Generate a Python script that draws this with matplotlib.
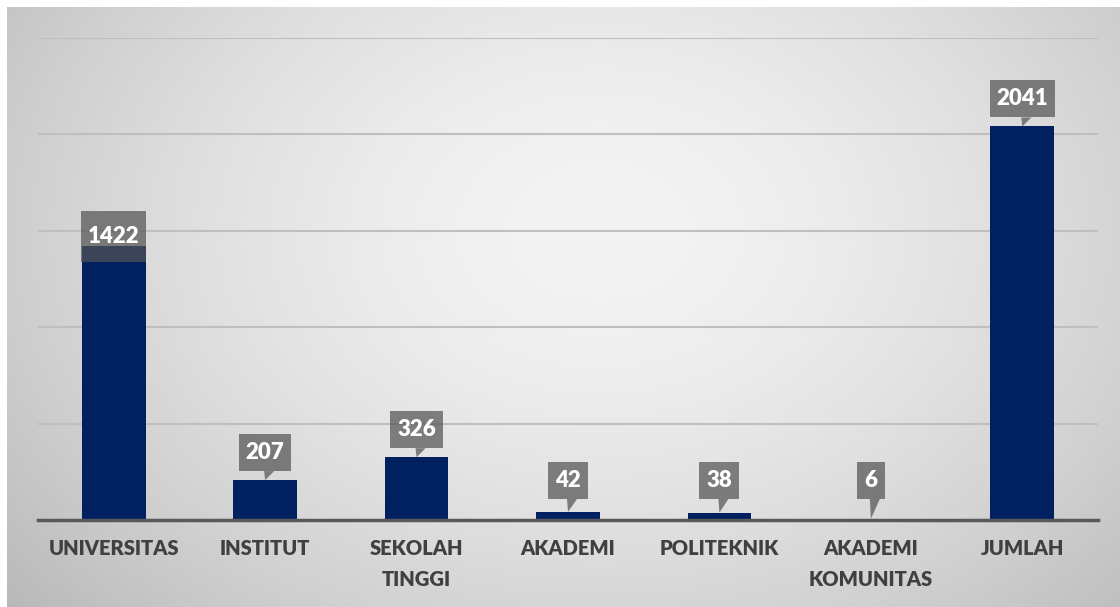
import matplotlib.pyplot as plt
import numpy as np
from matplotlib.patches import Polygon, Rectangle

categories = ["UNIVERSITAS", "INSTITUT", "SEKOLAH\nTINGGI", "AKADEMI",
              "POLITEKNIK", "AKADEMI\nKOMUNITAS", "JUMLAH"]
values = [1422, 207, 326, 42, 38, 6, 2041]

bar_color = "#002060"
box_color = "#545454"

plt.rcParams['font.family'] = ['Lato', 'DejaVu Sans']

fig = plt.figure(figsize=(11.2, 6.07), dpi=100)
W, H = 1120, 607

# radial grey background panel (with thin white margin top/left)
bg = fig.add_axes([0, 0, 1, 1], zorder=-10)
yy, xx = np.mgrid[0:H, 0:W]
r = np.sqrt(((xx - 600) / 700.0) ** 2 + ((yy - 230) / 520.0) ** 2)
shade = 244 - 50 * np.clip(r, 0, 1.2) ** 1.6
img = np.dstack([shade, shade, shade]) / 255.0
img[:7, :, :] = 1.0
img[:, :7, :] = 1.0
bg.imshow(img, extent=[0, W, H, 0], aspect="auto")
bg.set_xlim(0, W)
bg.set_ylim(H, 0)
bg.axis("off")

left, right = 38 / W, 1098 / W
bottom, top = (H - 520) / H, (H - 38) / H
ax = fig.add_axes([left, bottom, right - left, top - bottom])
ax.patch.set_alpha(0)

x = np.arange(len(categories))
ax.bar(x, values, width=0.42, color=bar_color, zorder=3)

ax.set_xlim(-0.5, len(categories) - 0.5)
ax.set_ylim(0, 2500)
ax.set_yticks(np.arange(500, 2501, 500))
ax.yaxis.grid(True, color="#bfbfbf", linewidth=1.5, zorder=0)
ax.set_yticklabels([])
ax.tick_params(axis="y", length=0)
ax.tick_params(axis="x", length=0, pad=14)
ax.set_xticks(x)
ax.set_xticklabels(categories, fontsize=14.5, fontweight="heavy", color="#404040",
                   linespacing=1.75, va="top")
for s in ["top", "right", "left"]:
    ax.spines[s].set_visible(False)
ax.spines["bottom"].set_color("#595959")
ax.spines["bottom"].set_linewidth(2.5)
ax.spines["bottom"].set_zorder(4)

# callout data labels, drawn in pixel coordinates
fig.canvas.draw()
base_px = ax.transData.transform((0, 0))[1]
for i, v in enumerate(values):
    px, py = ax.transData.transform((i, v))
    label = str(v)
    w = 15 + 12.5 * len(label)
    h = 37
    box_bot = max(py + 9, base_px + 21)
    box_top = box_bot + h
    text_y = box_bot + h / 2
    if i == 0:
        # this one sits over the bar top in the reference
        box_bot = py - 16
        box_top = py + 35
        text_y = py + 9
    ax.add_patch(Rectangle((px - w / 2, box_bot), w, box_top - box_bot,
                           transform=None, facecolor=box_color, alpha=0.72,
                           edgecolor="none", zorder=5))
    if i != 0:
        tri = Polygon([[px - 1, box_bot], [px + 9, box_bot], [px, py]],
                      closed=True, transform=None, facecolor=box_color,
                      alpha=0.72, edgecolor="none", zorder=5)
        ax.add_patch(tri)
    ax.text(px, text_y, label, transform=None, ha="center", va="center",
            color="white", fontsize=16, fontweight="heavy", zorder=6)

fig.savefig("out.png", dpi=100)
